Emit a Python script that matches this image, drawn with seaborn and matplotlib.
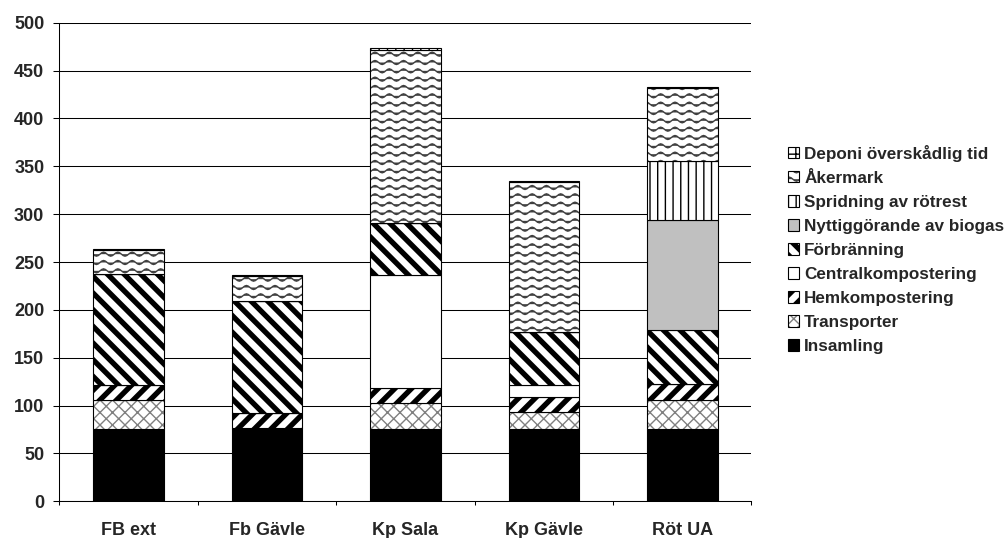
import warnings
import numpy as np
import matplotlib
matplotlib.use("Agg")
import matplotlib.pyplot as plt
import matplotlib.hatch as mhatch
from matplotlib.path import Path
from matplotlib.colors import to_rgba
from matplotlib.patches import Patch
from matplotlib.font_manager import FontProperties
from matplotlib.ticker import FixedLocator
import seaborn as sns

warnings.filterwarnings("ignore")

# ---- data -------------------------------------------------------------
categories = ["FB ext", "Fb Gävle", "Kp Sala", "Kp Gävle", "Röt UA"]

insamling = [76, 77, 76, 76, 76]
transporter = [30, 0, 27, 17, 30]
hemkompostering = [16, 15, 15, 16, 17]
centralkompostering = [0, 0, 118, 12, 0]
forbranning = [115, 117, 55, 56, 56]
biogas = [0, 0, 0, 0, 115]
spridning = [0, 0, 0, 0, 61]
akermark = [26, 26, 181, 157, 77]
deponi = [1, 1, 2, 1, 1]

series_names = [
    "Insamling", "Transporter", "Hemkompostering", "Centralkompostering",
    "Förbränning", "Nyttiggörande av biogas", "Spridning av rötrest",
    "Åkermark", "Deponi överskådlig tid",
]
series_values = [
    insamling, transporter, hemkompostering, centralkompostering,
    forbranning, biogas, spridning, akermark, deponi,
]

y_ticks = list(range(0, 501, 50))


# ---- custom hatch fills (drawn in a 1x1 tile) ---------------------------
def _diag(n, direction, offsets=(0.0,)):
    lines = []
    for k in range(-2 * n - 2, 3 * n + 3):
        for o in offsets:
            c = k / n + o
            if direction == "/":
                if -1.2 < c < 1.2:
                    lines.append([(c - 0.1, -0.1), (c + 1.1, 1.1)])
            else:
                if -0.2 < c < 2.2:
                    lines.append([(c + 0.1, -0.1), (c - 1.1, 1.1)])
    return lines


def _vertical(n):
    return [[((i + 0.5) / n, -0.1), ((i + 0.5) / n, 1.1)] for i in range(n)]


def _horizontal(n):
    return [[(-0.1, (i + 0.5) / n), (1.1, (i + 0.5) / n)] for i in range(n)]


def _wave(rows, waves, amp):
    xs = np.linspace(0, 1, waves * 8 + 1)
    lines = []
    for i in range(rows):
        y0 = (i + 0.5) / rows
        ys = y0 + amp * np.sin(2 * np.pi * waves * xs)
        lines.append(list(zip(xs, ys)))
    return lines


_thick = np.linspace(-0.028, 0.028, 4)
_HATCH_SPECS = {
    "C": lambda: _diag(8, "/") + _diag(8, "\\"),
    "H": lambda: _diag(6, "/", _thick),
    "F": lambda: _diag(6, "\\", _thick),
    "V": lambda: _vertical(13),
    "G": lambda: _vertical(12) + _horizontal(12),
    "W": lambda: _wave(12, 7, 0.02),
}


class TileHatch(mhatch.HatchPatternBase):
    def __init__(self, hatch, density):
        self.lines = []
        for ch in sorted(set(hatch)):
            fn = _HATCH_SPECS.get(ch)
            if fn is not None:
                self.lines.extend(fn())
        self.num_vertices = sum(len(l) for l in self.lines)

    def set_vertices_and_codes(self, vertices, codes):
        i = 0
        for line in self.lines:
            k = len(line)
            vertices[i:i + k] = line
            codes[i] = Path.MOVETO
            codes[i + 1:i + k] = Path.LINETO
            i += k


mhatch._hatch_types.append(TileHatch)

# fill style per series: (facecolor, hatch, hatch colour)
styles = [
    ("black", None, "black"),
    ("white", "C", "#808080"),
    ("white", "H", "black"),
    ("white", None, "black"),
    ("white", "F", "black"),
    ("#C0C0C0", None, "black"),
    ("white", "V", "black"),
    ("white", "W", "#404040"),
    ("white", "G", "black"),
]

# ---- figure ----------------------------------------------------------------
sns.set_theme(style="white")
plt.rcParams["font.family"] = ["Liberation Sans", "DejaVu Sans"]
plt.rcParams["font.weight"] = "bold"
plt.rcParams["hatch.linewidth"] = 1.0

fig = plt.figure(figsize=(10.06, 5.38), dpi=100)
ax = fig.add_axes([0.0589, 0.0682, 0.747 - 0.0589, 0.9578 - 0.0682])

bottom = np.zeros(len(categories))
handles = []
for name, vals, (fc, hatch, hc) in zip(series_names, series_values, styles):
    sns.barplot(x=categories, y=vals, bottom=bottom, color=fc, saturation=1,
                width=0.51, edgecolor="black", linewidth=0.8, hatch=hatch,
                ax=ax, zorder=3)
    for p in ax.containers[-1]:
        p._hatch_color = to_rgba(hc)
    h = Patch(facecolor=fc, edgecolor="black", hatch=hatch, linewidth=0.8)
    h._hatch_color = to_rgba(hc)
    handles.append(h)
    bottom = bottom + np.asarray(vals, dtype=float)

ax.set_xlim(-0.5, len(categories) - 0.5)
ax.set_ylim(0, 500)
ax.set_yticks(y_ticks)
ax.set_xlabel("")
ax.set_ylabel("")

ax.set_axisbelow(True)
ax.yaxis.grid(True, color="black", linewidth=0.75)
ax.xaxis.grid(False)
for side in ("top", "right"):
    ax.spines[side].set_visible(False)
for side in ("left", "bottom"):
    ax.spines[side].set_color("black")
    ax.spines[side].set_linewidth(0.75)

ax.xaxis.set_minor_locator(FixedLocator(np.arange(-0.5, len(categories), 1.0)))
ax.tick_params(axis="x", which="major", length=0, pad=15, labelsize=13)
ax.tick_params(axis="x", which="minor", length=3, width=0.75, color="black",
               direction="out", bottom=True)
ax.tick_params(axis="y", which="major", length=4.3, width=0.75, color="black",
               direction="out", left=True, pad=6.5, labelsize=13)
for lab in ax.get_xticklabels() + ax.get_yticklabels():
    lab.set_fontweight("bold")

fig.legend(handles[::-1], series_names[::-1], loc="upper left",
           bbox_to_anchor=(0.7833, 0.731), frameon=False,
           prop=FontProperties(family="Liberation Sans", weight="bold", size=12.3),
           handlelength=0.65, handleheight=0.65, handletextpad=0.3,
           labelspacing=0.53, borderaxespad=0, borderpad=0)

fig.savefig("out.png", dpi=100)
